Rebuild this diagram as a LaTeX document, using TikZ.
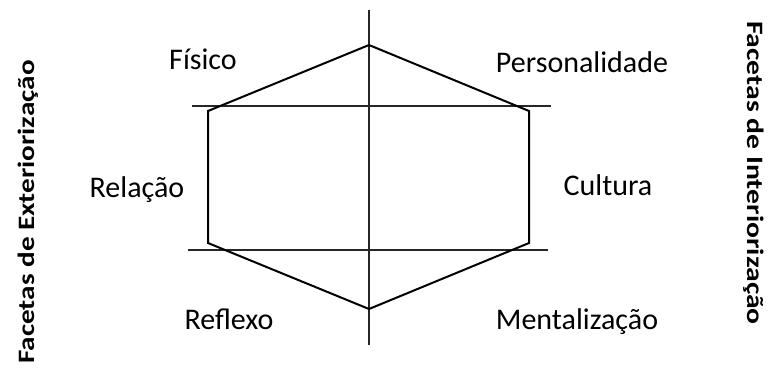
\documentclass[tikz,border=0pt]{standalone}
\usepackage{fontspec}
\setmainfont{Carlito}
\begin{document}
\begin{tikzpicture}[x=1pt,y=-1pt,
  axis/.style={line width=1.3pt,black!85},
  hexline/.style={line width=2pt,line join=miter},
  lab/.style={font=\fontsize{30}{34}\selectfont,inner sep=0pt,anchor=base},
  side/.style={font=\fontsize{23.5}{26}\selectfont\bfseries,inner sep=0pt,anchor=base}]
\useasboundingbox (0,0) rectangle (768,367);
% axes
\coordinate (vt) at (369,10);
\coordinate (vb) at (369,345);
\coordinate (h1l) at (192,106);
\coordinate (h1r) at (551,106);
\coordinate (h2l) at (188,250);
\coordinate (h2r) at (548,250);
\draw[axis] (vt) -- (vb);
\draw[axis] (h1l) -- (h1r);
\draw[axis] (h2l) -- (h2r);
% hexagon
\coordinate (top) at (369,45);
\coordinate (ur) at (529,111);
\coordinate (lr) at (529,243);
\coordinate (bot) at (369,309);
\coordinate (ll) at (208,243);
\coordinate (ul) at (208,111);
\draw[hexline] (top) -- (ur) -- (lr) -- (bot) -- (ll) -- (ul) -- cycle;
% labels
\node[lab] (fis) at (203,69) {Físico};
\node[lab] (pers) at (582,72) {Personalidade};
\node[lab] (rel) at (137,197) {Relação};
\node[lab] (cult) at (608,195) {Cultura};
\node[lab] (ref) at (229,329) {Reflexo};
\node[lab] (ment) at (577,329) {Mentalização};
\node[side,rotate=90] (ext) at (34,212) {\scalebox{1.24}[1]{Facetas de Exteriorização}};
\node[side,rotate=-90] (int) at (747,173) {\scalebox{1.26}[1]{Facetas de Interiorização}};
\end{tikzpicture}
\end{document}
